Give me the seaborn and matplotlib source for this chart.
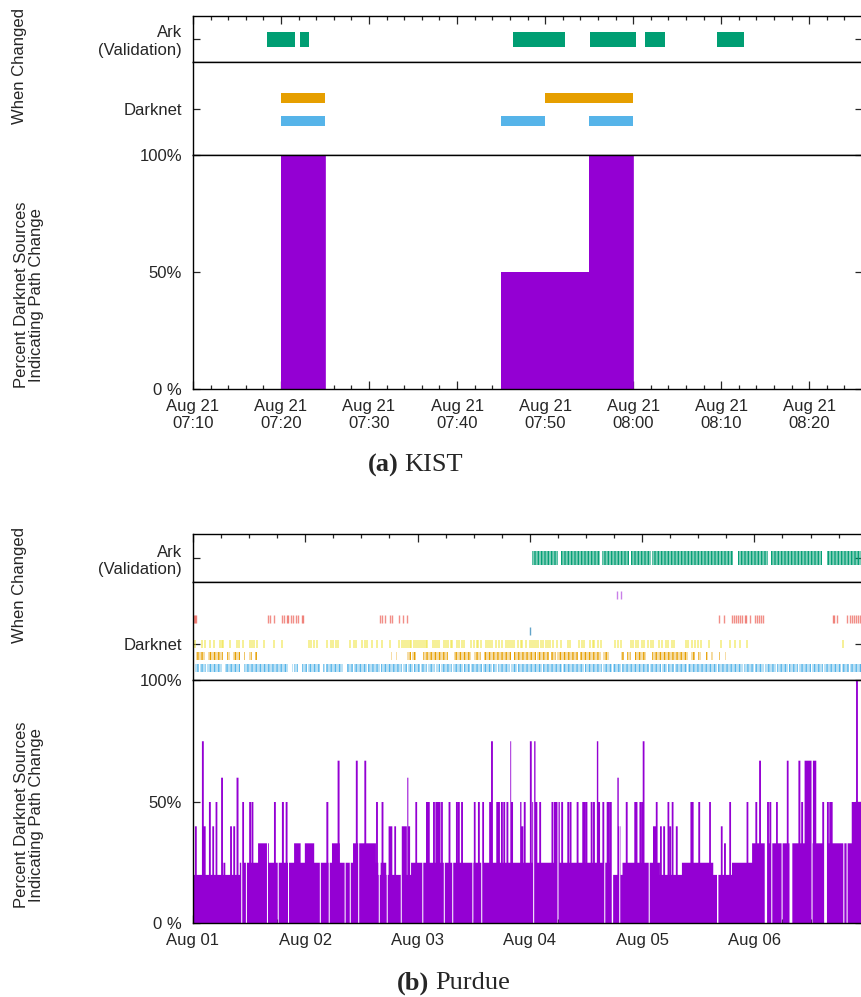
import numpy as np
import matplotlib
matplotlib.use("Agg")
import matplotlib.pyplot as plt
import seaborn as sns

# ---------------- (a) KIST : minutes after Aug 21 07:10 ----------------
kist_tick_pos = [0, 10, 20, 30, 40, 50, 60, 70]
kist_tick_labels = ["Aug 21\n07:10", "Aug 21\n07:20", "Aug 21\n07:30", "Aug 21\n07:40",
                    "Aug 21\n07:50", "Aug 21\n08:00", "Aug 21\n08:10", "Aug 21\n08:20"]
kist_xmax = 76.0
kist_ark_start = [8.4, 12.2, 36.4, 45.1, 51.3, 59.5]
kist_ark_end = [11.6, 13.2, 42.3, 50.3, 53.6, 62.6]
kist_dn_orange_start = [10.0, 40.0]
kist_dn_orange_end = [15.0, 50.0]
kist_dn_blue_start = [10.0, 35.0, 45.0]
kist_dn_blue_end = [15.0, 40.0, 50.0]
kist_pct_start = [10.0, 35.0, 45.0]
kist_pct_end = [15.0, 45.0, 50.0]
kist_pct_value = [100, 50, 100]

# ---------------- (b) Purdue : hours after Aug 01 00:00 ----------------
purdue_tick_pos = [0, 24, 48, 72, 96, 120]
purdue_tick_labels = ["Aug 01", "Aug 02", "Aug 03", "Aug 04", "Aug 05", "Aug 06"]
purdue_xmax = 143.0

purdue_base_t = [0.0, 9.9, 13.8, 16.1, 21.5, 22.9, 23.8, 25.8, 29.6, 31.3, 34.1, 39.0,
                 39.5, 40.0, 41.2, 46.5, 89.4, 89.7, 91.7, 99.7, 104.4, 111.1, 111.9,
                 112.2, 115.1, 119.4, 122.1, 122.6, 127.4, 128.0, 134.7, 135.4, 140.7]
purdue_base_v = [20, 25, 33, 25, 33, 25, 33, 25, 33, 25, 33, 25,
                 20, 25, 20, 25, 0, 20, 25, 20, 25, 20, 0,
                 20, 25, 33, 0, 33, 0, 33, 0, 33, 50]
purdue_spike_t = [0.5, 2.0, 2.4, 3.5, 4.2, 4.9, 6.1, 6.6, 8.0, 8.7, 9.4, 10.6, 12.1, 12.6,
                  17.4, 19.1, 19.9, 28.6, 31.0, 34.9, 36.7, 39.2, 40.4, 41.9, 42.3, 43.1,
                  44.6, 45.0, 45.4, 45.9, 46.1, 47.6, 49.9, 50.3, 51.4, 51.9, 52.3, 52.6,
                  53.1, 54.7, 56.3, 56.7, 57.4, 60.1, 61.0, 61.9, 63.4, 63.8, 64.9, 65.3,
                  65.9, 66.4, 67.1, 67.9, 68.1, 70.0, 70.3, 70.8, 72.1, 72.6, 72.9, 73.3,
                  74.1, 76.7, 77.2, 77.6, 78.1, 78.8, 80.1, 80.6, 82.1, 83.3, 83.6, 84.0,
                  85.1, 85.6, 86.4, 86.7, 87.6, 88.5, 88.8, 89.2, 90.8, 91.1, 92.6, 94.4,
                  94.7, 95.5, 95.9, 96.2, 98.4, 98.7, 99.0, 99.9, 100.6, 101.5, 101.9,
                  102.4, 103.3, 106.4, 106.7, 108.1, 110.4, 112.9, 113.6, 114.7, 118.4,
                  120.3, 121.1, 122.8, 123.3, 124.7, 127.0, 129.5, 130.1, 130.8, 131.2,
                  131.6, 131.9, 132.6, 132.9, 134.6, 135.6, 136.1, 136.4, 141.8]
purdue_spike_v = [40, 75, 40, 50, 40, 50, 60, 25, 40, 40, 60, 50, 50, 50,
                  50, 50, 50, 50, 67, 67, 67, 50, 50, 40, 40, 40,
                  40, 40, 40, 60, 40, 50, 50, 50, 50, 50, 50, 50,
                  50, 50, 50, 50, 50, 50, 50, 50, 50, 75, 50, 50,
                  50, 50, 50, 75, 50, 50, 40, 50, 75, 50, 75, 50,
                  50, 50, 50, 50, 50, 50, 50, 50, 50, 50, 50, 50,
                  50, 50, 75, 50, 50, 50, 50, 50, 60, 40, 50, 50,
                  50, 50, 50, 75, 40, 40, 50, 40, 40, 50, 40,
                  50, 40, 50, 50, 50, 50, 40, 33, 50, 50,
                  50, 67, 50, 50, 50, 67, 67, 50, 67, 67,
                  67, 67, 67, 67, 50, 50, 50, 50, 100]
purdue_gap_t = [10.3, 11.3, 15.8, 18.1, 20.3, 27.1, 29.0, 32.4, 33.5, 35.3, 39.7, 41.4,
                44.4, 49.0, 53.6, 55.4, 59.7, 61.6, 72.7, 77.9, 87.9, 91.1, 97.4,
                123.6, 125.8, 132.2, 139.0, 139.7]

purdue_ark_start = [72.4, 78.6, 87.4, 93.6, 98.2, 116.5, 123.5, 135.5]
purdue_ark_end = [78.1, 87.0, 93.3, 97.9, 115.4, 122.9, 134.4, 143.5]

purdue_blue_start = [0.4, 1.4, 3.0, 6.9, 10.8, 21.2, 21.6, 23.4, 24.5, 27.7, 28.4, 32.9, 34.5,
                     37.3, 40.2, 42.0, 44.8, 45.9, 47.3, 48.7, 50.2, 52.0, 53.0, 55.5, 58.0,
                     59.5, 62.0, 64.1, 65.2, 68.0, 69.5, 74.8, 76.2, 79.1, 83.7, 87.7, 89.8,
                     91.6, 97.7, 100.2, 101.6, 103.0, 105.9, 112.3, 116.6, 117.7, 120.2,
                     122.3, 124.8, 127.3, 129.5, 132.3, 134.8, 138.7, 140.5]
purdue_blue_end = [1.2, 2.8, 6.3, 10.0, 20.3, 21.4, 22.5, 24.3, 27.1, 28.2, 32.1, 34.3, 37.1,
                   40.0, 41.8, 44.6, 45.7, 47.1, 48.5, 50.0, 51.8, 52.8, 55.3, 57.8, 59.3,
                   61.8, 63.9, 65.0, 67.8, 69.3, 74.6, 76.0, 78.9, 83.5, 87.5, 89.6, 91.4,
                   97.5, 100.0, 101.4, 102.8, 105.7, 112.1, 116.4, 117.5, 120.0, 122.1,
                   124.6, 127.1, 129.3, 132.1, 134.6, 138.5, 140.3, 143.5]

purdue_orange_start = [0.6, 3.3, 7.2, 8.6, 10.8, 11.9, 13.3, 42.4, 43.3, 45.8, 46.9, 49.2,
                       55.8, 60.1, 62.2, 68.6, 70.1, 73.6, 76.5, 77.9, 82.8, 87.6, 91.5,
                       92.8, 94.4, 98.1, 106.5, 107.9, 109.6, 110.8, 112.4, 113.7]
purdue_orange_end = [2.6, 6.5, 7.9, 10.1, 11.1, 12.6, 13.6, 42.6, 43.6, 46.5, 47.6, 54.4,
                     59.4, 61.5, 67.9, 70.1, 73.3, 76.1, 77.6, 82.2, 87.2, 89.0, 92.2,
                     93.6, 96.9, 105.8, 107.2, 108.6, 110.0, 111.1, 112.6, 113.9]

purdue_yellow_t = [0.4, 1.9, 2.6, 3.6, 4.4, 5.8, 6.1, 6.5, 7.9, 9.4, 9.9, 10.6, 12.2, 12.6,
                   13.1, 13.6, 15.1, 17.4, 19.0, 24.7, 25.2, 25.8, 26.5, 28.6, 29.4, 29.9,
                   30.5, 31.1, 33.6, 34.4, 34.9, 36.1, 36.7, 37.2, 38.3, 39.4, 40.3, 42.1,
                   44.0, 44.7, 45.1, 45.5, 45.9, 46.3, 46.7, 47.2, 47.6, 48.0, 48.5, 49.0,
                   49.4, 49.8, 50.1, 51.2, 51.7, 52.1, 52.6, 53.6, 54.1, 54.6, 55.1, 55.4,
                   56.5, 56.9, 57.4, 57.9, 59.4, 60.1, 60.6, 61.0, 61.5, 62.6, 63.0, 63.5,
                   64.0, 64.7, 65.4, 66.1, 66.9, 67.3, 67.7, 68.2, 68.6, 69.4, 70.1, 70.4,
                   71.1, 72.1, 72.5, 72.9, 73.4, 73.8, 74.3, 74.9, 75.4, 75.8, 76.3, 76.9,
                   77.9, 78.6, 80.1, 80.6, 82.6, 83.1, 83.6, 84.9, 85.4, 85.8, 86.5, 87.2,
                   90.2, 90.8, 91.5, 93.6, 94.1, 94.6, 95.2, 95.9, 96.5, 97.2, 97.8, 98.3,
                   99.7, 100.3, 101.0, 101.6, 102.3, 102.9, 105.3, 105.9, 106.6, 107.2,
                   107.9, 108.6, 110.3, 112.9, 114.7, 115.8, 116.9, 118.4, 139.0]

purdue_red_t = [0.2, 0.4, 0.6, 16.1, 16.5, 17.4, 19.0, 19.4, 20.0, 20.4, 21.0, 21.3, 22.1,
                22.5, 23.2, 23.6, 39.9, 40.3, 41.0, 42.2, 42.6, 44.1, 44.9, 45.8, 112.4,
                113.6, 115.2, 115.6, 116.1, 116.5, 117.0, 117.4, 117.9, 118.3, 119.0,
                120.1, 120.5, 121.0, 121.5, 121.9, 136.7, 137.1, 137.6, 139.9, 140.4,
                140.8, 141.3, 141.7, 142.2, 142.6]
purdue_violet_t = [90.6, 91.5]
purdue_teal_t = [72.1]

# ---------------- style ----------------
sns.set_theme(style="ticks")
plt.rcParams["font.family"] = ["Liberation Sans", "DejaVu Sans"]
plt.rcParams["hatch.linewidth"] = 0.9

GREEN = "#009E73"
ORANGE = "#E69F00"
BLUE = "#56B4E9"
PURPLE = "#9400D3"
YELLOW = "#F0E442"
RED = "#E51E10"
TEAL = "#3C8DBC"
FS = 12

W, H = 861, 997
fig = plt.figure(figsize=(W / 100, H / 100), dpi=100)


def rect(top_px, bot_px):
    return [193 / W, 1 - bot_px / H, (862 - 193) / W, (bot_px - top_px) / H]


def frame(ax):
    for s in ax.spines.values():
        s.set_color("black")
        s.set_linewidth(1.0)
    ax.set_facecolor("white")


def make_panel(tops, xmax, tick_pos, tick_labels, minor_step, ytick_dn, yl_dn, xpad):
    ax_ark = fig.add_axes(rect(tops[0], tops[1]))
    ax_dn = fig.add_axes(rect(tops[1], tops[2]))
    ax_pc = fig.add_axes(rect(tops[2], tops[3]))
    for ax in (ax_ark, ax_dn, ax_pc):
        frame(ax)
        ax.set_xlim(0, xmax)
    # Ark axis: ticks on top
    ax_ark.set_ylim(0, 1)
    ax_ark.set_yticks([0.5])
    ax_ark.set_yticklabels(["Ark\n(Validation)"], fontsize=FS)
    ax_ark.set_xticks(tick_pos)
    ax_ark.set_xticks(np.arange(0, xmax, minor_step), minor=True)
    ax_ark.tick_params(axis="x", which="both", direction="in", top=True, bottom=False,
                       labeltop=False, labelbottom=False)
    ax_ark.tick_params(axis="x", which="major", length=5.8, width=0.9)
    ax_ark.tick_params(axis="x", which="minor", length=2.9, width=0.9)
    ax_ark.tick_params(axis="y", direction="in", left=True, right=True, length=5, width=0.9, pad=8)
    # Darknet axis
    ax_dn.set_ylim(*yl_dn)
    ax_dn.set_yticks([ytick_dn])
    ax_dn.set_yticklabels(["Darknet"], fontsize=FS)
    ax_dn.set_xticks([])
    ax_dn.tick_params(axis="y", direction="in", left=True, right=True, length=5, width=0.9, pad=8)
    # Percent axis
    ax_pc.set_ylim(0, 100)
    ax_pc.set_yticks([0, 50, 100])
    ax_pc.set_yticklabels(["0 %", "50%", "100%"], fontsize=FS)
    ax_pc.set_xticks(tick_pos)
    ax_pc.set_xticklabels(tick_labels, fontsize=FS, linespacing=1.15)
    ax_pc.set_xticks(np.arange(0, xmax, minor_step), minor=True)
    ax_pc.tick_params(axis="x", which="both", direction="in", top=False, bottom=True, pad=xpad)
    ax_pc.tick_params(axis="x", which="major", length=5.8, width=0.9)
    ax_pc.tick_params(axis="x", which="minor", length=2.9, width=0.9)
    ax_pc.tick_params(axis="y", direction="in", left=True, right=True, length=5, width=0.9, pad=8)
    for ax in (ax_ark, ax_dn, ax_pc):
        ax.set_xlabel("")
        ax.set_ylabel("")
    return ax_ark, ax_dn, ax_pc


# ======================= panel (a) =======================
a_ark, a_dn, a_pc = make_panel([16, 62, 155, 389], kist_xmax, kist_tick_pos, kist_tick_labels,
                               2, 0.5, (-1.48, 2.56), 7)
a_ark.bar(kist_ark_start, 0.33, width=np.subtract(kist_ark_end, kist_ark_start), bottom=0.33,
          align="edge", color=GREEN, linewidth=0)
a_dn.bar(kist_dn_orange_start, 0.43, width=np.subtract(kist_dn_orange_end, kist_dn_orange_start),
         bottom=1 - 0.215, align="edge", color=ORANGE, linewidth=0)
a_dn.bar(kist_dn_blue_start, 0.43, width=np.subtract(kist_dn_blue_end, kist_dn_blue_start),
         bottom=0 - 0.215, align="edge", color=BLUE, linewidth=0)
# step series for percent
ka_t, ka_v = [], []
for s, e, v in zip(kist_pct_start, kist_pct_end, kist_pct_value):
    ka_t += [s, e]
    ka_v += [v, 0]
ka_t = [0] + ka_t + [kist_xmax]
ka_v = [0] + ka_v + [0]
a_pc.fill_between(ka_t, ka_v, step="post", color=PURPLE, linewidth=0, zorder=1)
sns.lineplot(x=ka_t, y=ka_v, drawstyle="steps-post", color=PURPLE, linewidth=0.6, ax=a_pc,
             zorder=1, estimator=None, sort=False)
a_pc.set_ylim(0, 100)
a_pc.set_xlim(0, kist_xmax)

# ======================= panel (b) =======================
b_ark, b_dn, b_pc = make_panel([534, 582, 680, 923], purdue_xmax, purdue_tick_pos,
                               purdue_tick_labels, 6, 2, (-0.98, 7.05), 7)
HB = 0.29
b_ark.bar(purdue_ark_start, HB, width=np.subtract(purdue_ark_end, purdue_ark_start),
          bottom=0.5 - HB / 2, align="edge", color=(0.0, 0.62, 0.45, 0.5), hatch="|||||",
          edgecolor=GREEN, linewidth=0)
hd = 0.66
b_dn.bar(purdue_blue_start, hd, width=np.subtract(purdue_blue_end, purdue_blue_start),
         bottom=0 - hd / 2, align="edge", color=(0.34, 0.71, 0.91, 0.4), hatch="||||",
         edgecolor=BLUE, linewidth=0)
b_dn.bar(purdue_orange_start, hd, width=np.subtract(purdue_orange_end, purdue_orange_start),
         bottom=1 - hd / 2, align="edge", color=(0.90, 0.62, 0.0, 0.35), hatch="||||",
         edgecolor=ORANGE, linewidth=0)
b_dn.vlines(purdue_yellow_t, 2 - hd / 2, 2 + hd / 2, color=YELLOW, linewidth=1.3, alpha=0.6)
b_dn.vlines(purdue_teal_t, 3 - hd / 2, 3 + hd / 2, color=TEAL, linewidth=1.0, alpha=0.8)
b_dn.vlines(purdue_red_t, 4 - hd / 2, 4 + hd / 2, color=RED, linewidth=1.0, alpha=0.5)
b_dn.vlines(purdue_violet_t, 6 - hd / 2, 6 + hd / 2, color=PURPLE, linewidth=1.0, alpha=0.5)

# purdue percent series (step function assembled from the segments above)
tt = np.arange(0, purdue_xmax + 0.5, 0.02)
idx = np.searchsorted(purdue_base_t, tt, side="right") - 1
yy = np.asarray(purdue_base_v, dtype=float)[idx]
for ts, lv in zip(purdue_spike_t, purdue_spike_v):
    yy[np.abs(tt - ts) <= 0.2] = lv
for tg in purdue_gap_t:
    yy[np.abs(tt - tg) <= 0.11] = 0
b_pc.fill_between(tt, yy, step="post", color=PURPLE, linewidth=0, zorder=1)
b_pc.set_ylim(0, 100)
b_pc.set_xlim(0, purdue_xmax)

# ======================= labels & captions =======================
for yc in (66, 585):
    fig.text(20 / W, 1 - yc / H, "When Changed", rotation=90, ha="center", va="center",
             fontsize=FS)
for yc in (295, 815):
    fig.text(29 / W, 1 - yc / H, "Percent Darknet Sources\nIndicating Path Change",
             rotation=90, ha="center", va="center", fontsize=FS, linespacing=1.0,
             multialignment="center")

serif = ["Liberation Serif", "DejaVu Serif"]
fig.text(368 / W, 1 - 465 / H, "(a)", family=serif, fontweight="bold", fontsize=19,
         ha="left", va="center")
fig.text(404 / W, 1 - 465 / H, "KIST", family=serif, fontsize=19, ha="left", va="center")
fig.text(397 / W, 1 - 983 / H, "(b)", family=serif, fontweight="bold", fontsize=19,
         ha="left", va="center")
fig.text(435 / W, 1 - 983 / H, "Purdue", family=serif, fontsize=19, ha="left", va="center")

fig.savefig("out.png", dpi=100, facecolor="white")
